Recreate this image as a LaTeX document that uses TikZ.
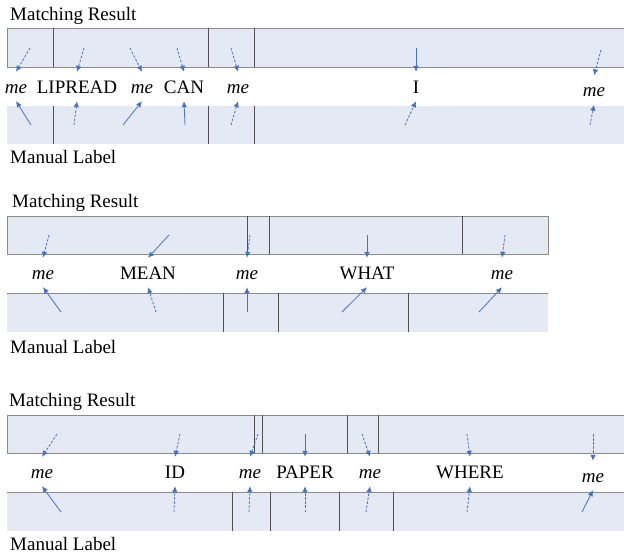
\documentclass[tikz,border=0pt]{standalone}
\usepackage{fontspec}
\setmainfont{Liberation Serif}
\usetikzlibrary{arrows.meta}
\definecolor{barfill}{RGB}{228,233,244}
\definecolor{barline}{RGB}{140,140,140}
\definecolor{divline}{RGB}{80,80,80}
\definecolor{linkblue}{RGB}{68,114,196}
\begin{document}
\begin{tikzpicture}[x=1pt,y=-1pt,
  bar/.style={fill=barfill,draw=none},
  rim/.style={draw=barline,line width=1pt},
  divider/.style={draw=divline,line width=1pt},
  title/.style={anchor=base west,inner sep=0pt,font=\fontsize{19}{22}\selectfont},
  word/.style={anchor=base,inner xsep=0pt,inner ysep=0pt,text height=21pt,text depth=8pt,
    font=\fontsize{19}{22}\selectfont},
  link/.style={draw=linkblue,line width=0.8pt,-{Latex[length=6pt,width=5.5pt]}},
  sol/.style={},
  dsh/.style={dash pattern=on 2.5pt off 1.6pt}]
\useasboundingbox (0,0) rectangle (624,555);

% ---------- first sentence ----------
\node[title] (mr1) at (10,20) {Matching Result};
\fill[bar] (7,28) rectangle (624,67);
\draw[rim] (7,28) -- (624,28) (7,67) -- (624,67) (7,28) -- (7,67);
\foreach \x in {53,208,254} \draw[divider] (\x,28) -- (\x,67);
\fill[bar] (7,106) rectangle (624,144);
\foreach \x in {53,208,254} \draw[divider] (\x,106) -- (\x,144);
\node[title] (ml1) at (10,163) {Manual Label};

\node[word] (a1) at (16,93) {\textit{me}};
\node[word] (a2) at (77,93) {LIPREAD};
\node[word] (a3) at (142,93) {\textit{me}};
\node[word] (a4) at (184,93) {CAN};
\node[word] (a5) at (238,93) {\textit{me}};
\node[word] (a6) at (416,93) {I};
\node[word] (a7) at (594,96.5) {\textit{me}};

\foreach \n/\tx/\ts/\bx/\bs in {a1/30/dsh/31/sol, a2/84/dsh/74/dsh, a3/130/dsh/123/sol,
    a4/177/dsh/185/sol, a5/231/dsh/231/dsh, a6/416/sol/405/dsh}{
  \coordinate (\n t) at (\tx,48);
  \coordinate (\n b) at (\bx,125);
  \draw[link,\ts] (\n t) -- (\n.north);
  \draw[link,\bs] (\n b) -- (\n.south);
}
\coordinate (a7t) at (601,50);
\coordinate (a7b) at (590,125);
\draw[link,dsh] (a7t) -- (a7.north);
\draw[link,dsh] (a7b) -- (a7.south);

% ---------- second sentence ----------
\node[title] (mr2) at (12,207) {Matching Result};
\fill[bar] (7,216) rectangle (548,254);
\draw[rim] (7,216) rectangle (548,254);
\foreach \x in {247,269,462} \draw[divider] (\x,216) -- (\x,254);
\fill[bar] (7,293) rectangle (548,332);
\draw[rim] (7,293) -- (548,293);
\foreach \x in {223,278,408} \draw[divider] (\x,293) -- (\x,332);
\node[title] (ml2) at (10,353) {Manual Label};

\node[word] (b1) at (43,279) {\textit{me}};
\node[word] (b2) at (148,279) {MEAN};
\node[word] (b3) at (247,279) {\textit{me}};
\node[word] (b4) at (367,279) {WHAT};
\node[word] (b5) at (502,279) {\textit{me}};

\foreach \n/\tx/\ts/\bx/\bs in {b1/49/dsh/61/sol, b2/169/sol/156/dsh, b3/250/dsh/247/sol,
    b4/367/sol/342/sol, b5/505/dsh/479/sol}{
  \coordinate (\n t) at (\tx,235);
  \coordinate (\n b) at (\bx,312);
  \draw[link,\ts] (\n t) -- (\n.north);
  \draw[link,\bs] (\n b) -- (\n.south);
}

% ---------- third sentence ----------
\node[title] (mr3) at (9,406) {Matching Result};
\fill[bar] (7,415) rectangle (624,453);
\draw[rim] (7,415) -- (624,415) (7,453) -- (624,453) (7,415) -- (7,453);
\foreach \x in {254,262,347,378} \draw[divider] (\x,415) -- (\x,453);
\fill[bar] (7,492) rectangle (624,531);
\draw[rim] (7,492) -- (624,492);
\foreach \x in {232,270,339,393} \draw[divider] (\x,492) -- (\x,531);
\node[title] (ml3) at (10,550) {Manual Label};

\node[word] (c1) at (42,478) {\textit{me}};
\node[word] (c2) at (175,478) {ID};
\node[word] (c3) at (250,478) {\textit{me}};
\node[word] (c4) at (305,478) {PAPER};
\node[word] (c5) at (370,478) {\textit{me}};
\node[word] (c6) at (470,478) {WHERE};
\node[word] (c7) at (593,482) {\textit{me}};

\foreach \n/\tx/\ts/\bx/\bs in {c1/57/dsh/61/sol, c2/180/dsh/174/dsh, c3/258/dsh/249/dsh,
    c4/305/sol/305/dsh, c5/362/dsh/366/dsh, c6/467/dsh/467/dsh, c7/593/dsh/582/sol}{
  \coordinate (\n t) at (\tx,434);
  \coordinate (\n b) at (\bx,512);
  \draw[link,\ts] (\n t) -- (\n.north);
  \draw[link,\bs] (\n b) -- (\n.south);
}
\end{tikzpicture}
\end{document}
